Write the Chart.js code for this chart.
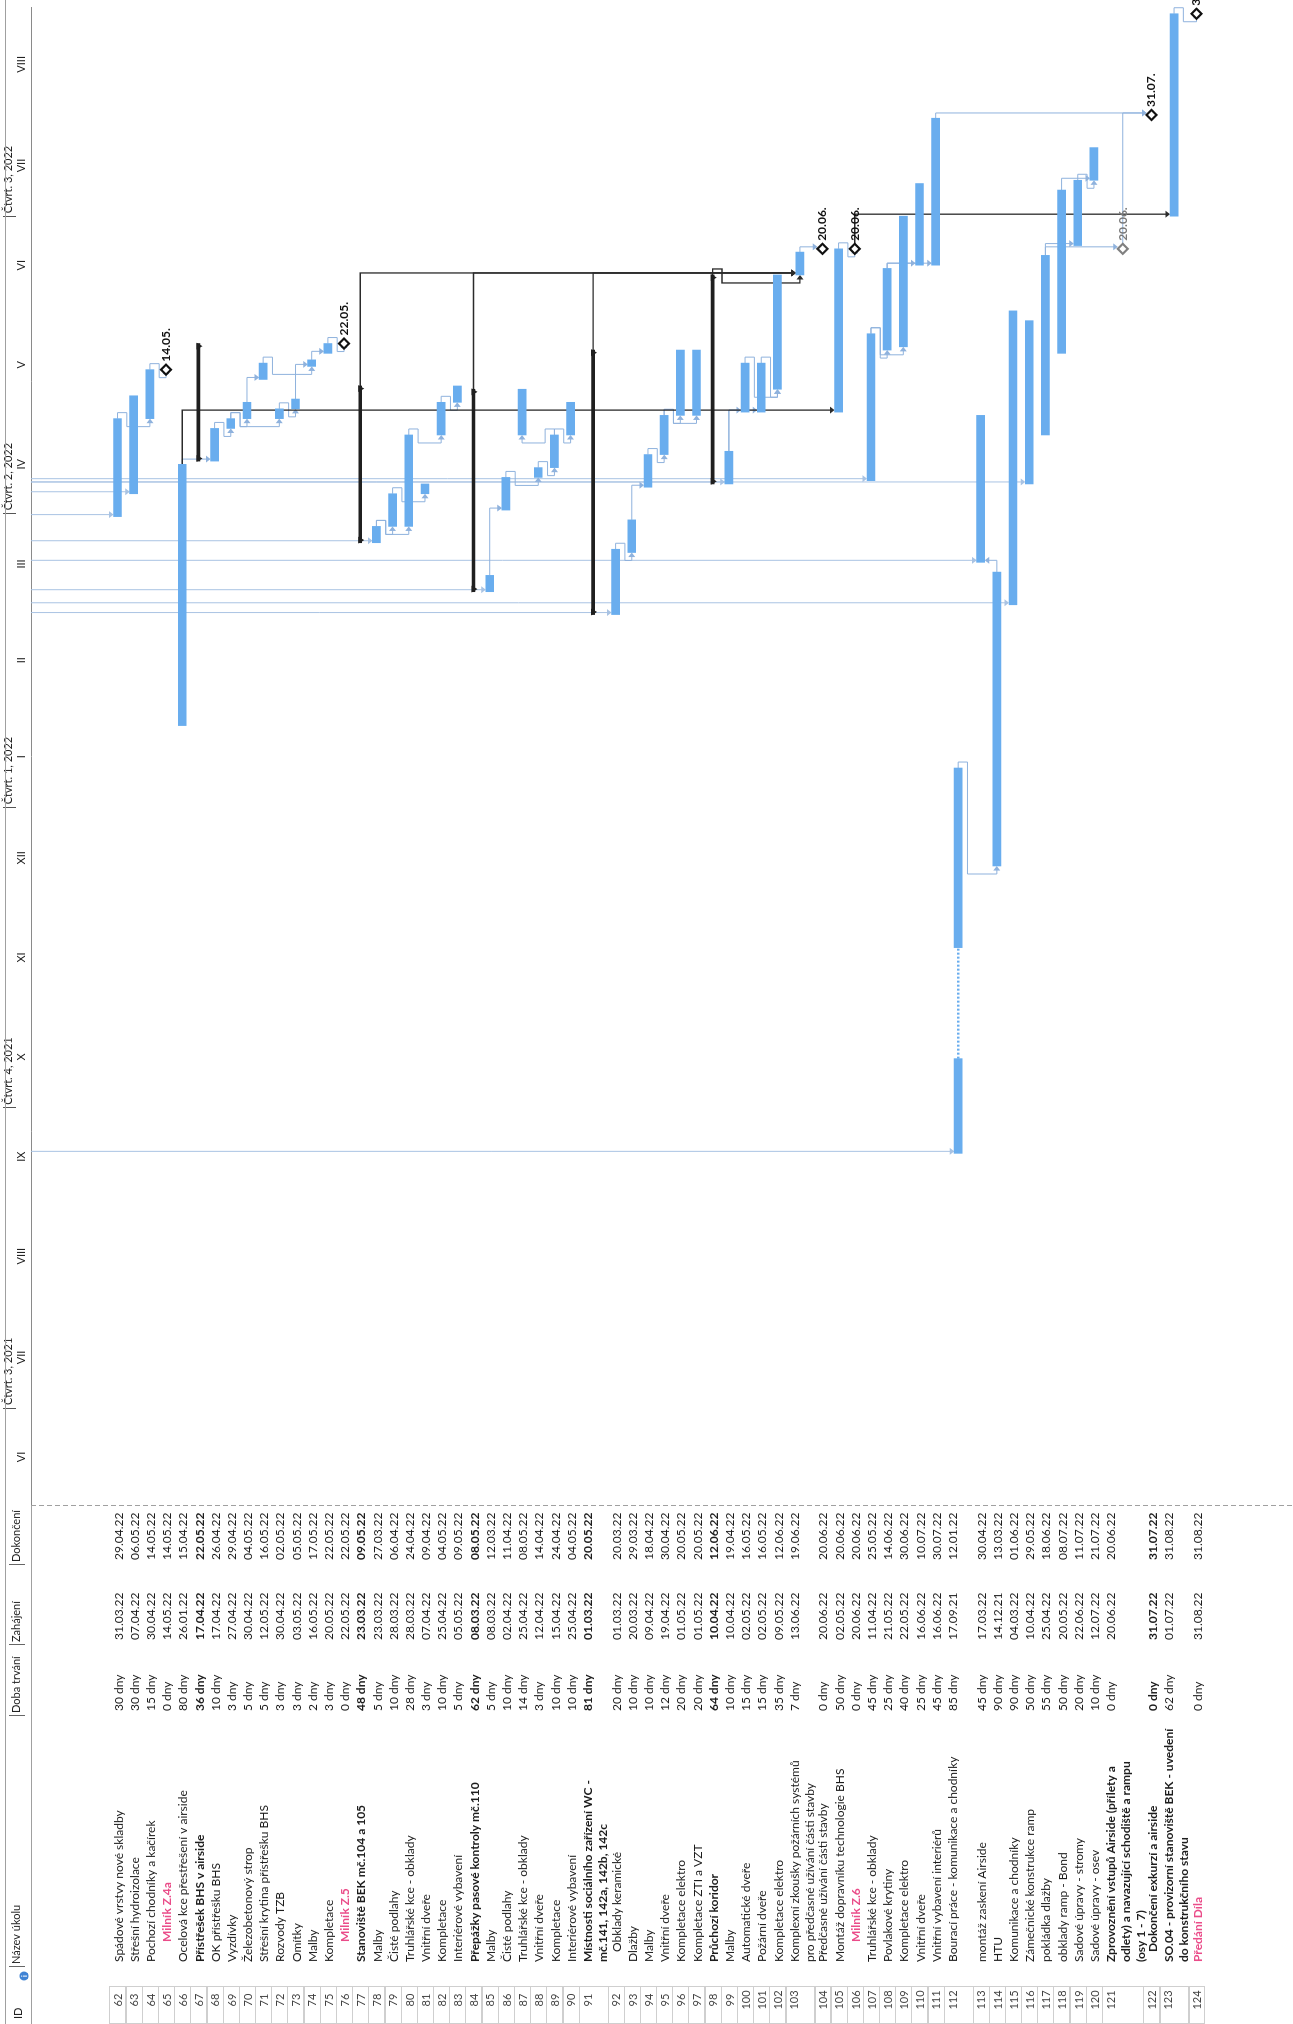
<!DOCTYPE html>
<html>
<head>
<meta charset="utf-8">
<script src="https://cdn.jsdelivr.net/npm/chart.js@4.4.1/dist/chart.umd.min.js"></script>
<style>
  html, body { margin: 0; padding: 0; background: #fff; }
  #page { position: relative; width: 1293px; height: 2024px; overflow: hidden; }
  /* the gantt is drawn landscape and turned a quarter to the left, like the scanned printout */
  #wrap { position: absolute; left: 0; top: 0; width: 2024px; height: 1293px;
          transform-origin: 0 0; transform: translate(0, 2024px) rotate(-90deg); }
</style>
</head>
<body>
<div id="page"><div id="wrap"><canvas id="gantt" width="2024" height="1293"></canvas></div></div>
<script>
// ---- data ----
const taskIds = [62,63,64,65,66,67,68,69,70,71,72,73,74,75,76,77,78,79,80,81,82,83,84,85,86,87,88,89,90,91,92,93,94,95,96,97,98,99,100,101,102,103,104,105,106,107,108,109,110,111,112,113,114,115,116,117,118,119,120,121,122,123,124];

const taskNames = [
  'Spádové vrstvy nové skladby', 'Střešní hydroizolace', 'Pochozí chodníky a kačírek', 'Milník Z.4a',
  'Ocelová kce přestřešení v airside', 'Přístřešek BHS v airside', 'OK přístřešku BHS', 'Vyzdívky',
  'Železobetonový strop', 'Střešní krytina přístřešku BHS', 'Rozvody TZB', 'Omítky', 'Malby', 'Kompletace',
  'Milník Z.5', 'Stanoviště BEK mč.104 a 105', 'Malby', 'Čisté podlahy', 'Truhlářské kce - obklady',
  'Vnitřní dveře', 'Kompletace', 'Interiérové vybavení', 'Přepážky pasové kontroly mč.110', 'Malby',
  'Čisté podlahy', 'Truhlářské kce - obklady', 'Vnitřní dveře', 'Kompletace', 'Interiérové vybavení',
  'Místnosti sociálního zařízení WC -\nmč.141, 142a, 142b, 142c', 'Obklady keramické', 'Dlažby', 'Malby',
  'Vnitřní dveře', 'Kompletace elektro', 'Kompletace ZTI a VZT', 'Průchozí koridor', 'Malby',
  'Automatické dveře', 'Požární dveře', 'Kompletace elektro',
  'Komplexní zkoušky požárních systémů\npro předčasné užívání části stavby', 'Předčasné užívání části stavby',
  'Montáž dopravníku technologie BHS', 'Milník Z.6', 'Truhlářské kce - obklady', 'Povlakové krytiny',
  'Kompletace elektro', 'Vnitřní dveře', 'Vnitřní vybavení interiérů', 'Bourací práce - komunikace a chodníky',
  'montáž zaskení Airside', 'HTU', 'Komunikace a chodníky', 'Zámečnické konstrukce ramp', 'pokládka dlažby',
  'obklady ramp - Bond', 'Sadové úpravy - stromy', 'Sadové úpravy - osev',
  'Zprovoznění vstupů Airside (přílety a\nodlety) a navazující schodiště a rampu\n(osy 1 - 7)',
  'Dokončení exkurzí a airside', 'SO.04 - provizorní stanoviště BEK - uvedení\ndo konstrukčního stavu', 'Předání Díla'
];

const durations = ['30 dny','30 dny','15 dny','0 dny','80 dny','36 dny','10 dny','3 dny','5 dny','5 dny','3 dny','3 dny','2 dny','3 dny',
  '0 dny','48 dny','5 dny','10 dny','28 dny','3 dny','10 dny','5 dny','62 dny','5 dny','10 dny','14 dny','3 dny','10 dny','10 dny',
  '81 dny','20 dny','10 dny','10 dny','12 dny','20 dny','20 dny','64 dny','10 dny','15 dny','15 dny','35 dny','7 dny','0 dny',
  '50 dny','0 dny','45 dny','25 dny','40 dny','25 dny','45 dny','85 dny','45 dny','90 dny','90 dny','50 dny','55 dny','50 dny',
  '20 dny','10 dny','0 dny','0 dny','62 dny','0 dny'];

const startDates = ['31.03.22','07.04.22','30.04.22','14.05.22','26.01.22','17.04.22','17.04.22','27.04.22','30.04.22','12.05.22',
  '30.04.22','03.05.22','16.05.22','20.05.22','22.05.22','23.03.22','23.03.22','28.03.22','28.03.22','07.04.22','25.04.22',
  '05.05.22','08.03.22','08.03.22','02.04.22','25.04.22','12.04.22','15.04.22','25.04.22','01.03.22','01.03.22','20.03.22',
  '09.04.22','19.04.22','01.05.22','01.05.22','10.04.22','10.04.22','02.05.22','02.05.22','09.05.22','13.06.22','20.06.22',
  '02.05.22','20.06.22','11.04.22','21.05.22','22.05.22','16.06.22','16.06.22','17.09.21','17.03.22','14.12.21','04.03.22',
  '10.04.22','25.04.22','20.05.22','22.06.22','12.07.22','20.06.22','31.07.22','01.07.22','31.08.22'];

const finishDates = ['29.04.22','06.05.22','14.05.22','14.05.22','15.04.22','22.05.22','26.04.22','29.04.22','04.05.22','16.05.22',
  '02.05.22','05.05.22','17.05.22','22.05.22','22.05.22','09.05.22','27.03.22','06.04.22','24.04.22','09.04.22','04.05.22',
  '09.05.22','08.05.22','12.03.22','11.04.22','08.05.22','14.04.22','24.04.22','04.05.22','20.05.22','20.03.22','29.03.22',
  '18.04.22','30.04.22','20.05.22','20.05.22','12.06.22','19.04.22','16.05.22','16.05.22','12.06.22','19.06.22','20.06.22',
  '20.06.22','20.06.22','25.05.22','14.06.22','30.06.22','10.07.22','30.07.22','12.01.22','30.04.22','13.03.22','01.06.22',
  '29.05.22','18.06.22','08.07.22','11.07.22','21.07.22','20.06.22','31.07.22','31.08.22','31.08.22'];

// indentation of the name cell (milestones Z.x sit deeper)
const outlineLevel = [0,0,0,2,0,0,0,0,0,0,0,0,0,0,2,0,0,0,0,0,0,0,0,0,0,0,0,0,0,0,1,0,0,0,0,0,0,0,0,0,0,0,0,0,2,0,0,0,0,0,0,
  0,0,0,0,0,0,0,0,0,1,0,0];

const summaryIds = [67, 77, 84, 91, 98];
const boldNameIds = [65, 67, 76, 77, 84, 91, 98, 106, 121, 122, 123, 124];
const boldValueIds = [67, 77, 84, 91, 98, 122];
const pinkIds = [65, 76, 106, 124];
const greyMilestoneIds = [121];

// task 112 was split in the plan
const split112 = [['17.09.21', '15.10.21'], ['19.11.21', '12.01.22']];

const links = [[62,64],[64,65],[66,68],[68,69],[69,70],[69,72],[72,73],[70,71],[73,74],[71,74],[74,75],[75,76],
  [78,79],[78,80],[79,81],[80,82],[82,83],[85,86],[86,88],[88,89],[89,87],[89,90],
  [92,93],[93,94],[94,95],[95,96],[95,97],[99,100],[99,101],[101,102],[100,102],
  [103,104],[105,106],[107,108],[108,110],[108,111],[107,109],
  [112,114],[114,113],[117,119],[119,120],[118,120],[117,121],[121,122],[111,122],[123,124]];
const summaryLinks = [[77,103],[84,103],[91,103],[98,103],[66,105],[106,123]];
const externalLinks = [62, 63, 78, 85, 92, 99, 107, 112, 113, 115, 116];

const monthStarts = ['01.06.21','01.07.21','01.08.21','01.09.21','01.10.21','01.11.21','01.12.21','01.01.22',
  '01.02.22','01.03.22','01.04.22','01.05.22','01.06.22','01.07.22','01.08.22','01.09.22'];
const monthLabels = ['VI','VII','VIII','IX','X','XI','XII','I','II','III','IV','V','VI','VII','VIII'];
const quarterStarts = ['01.07.21','01.10.21','01.01.22','01.04.22','01.07.22'];
const quarterLabels = ['Čtvrt. 3, 2021','Čtvrt. 4, 2021','Čtvrt. 1, 2022','Čtvrt. 2, 2022','Čtvrt. 3, 2022'];

const tableHeaders = ['ID', 'Název úkolu', 'Doba trvání', 'Zahájení', 'Dokončení'];

// ---- layout ----
const HEADER = 31, ROW_PX = 18.6, TABLE_W = 518, LINE_PX = 15;
const ID_W = 37;
const COL_X = [24, 62, 313, 384, 464];
const INDENT = 10;
const tallRows = {112: 2};
const FONT = 'Lato, "Open Sans", sans-serif';
const BAR_BLUE = '#69adee';
const LINK_BLUE = '#8fb2dd';

function day(s) {
  const [d, m, y] = s.split('.').map(Number);
  return Date.UTC(2000 + y, m - 1, d) / 86400000;
}
const idx = id => taskIds.indexOf(id);
const isMilestone = i => durations[i] === '0 dny';

const lineCount = taskNames.map((n, i) => Math.max(n.split('\n').length, tallRows[taskIds[i]] || 1));
const rowUnits = lineCount.map(n => 1 + (n - 1) * 0.78);
const rowTop = [];
let acc = 0;
rowUnits.forEach(u => { rowTop.push(acc); acc += u; });
const rowCenter = rowTop.map((t, i) => t + rowUnits[i] / 2);

// ---- datasets ----
const taskBars = [];
taskIds.forEach((id, i) => {
  if (isMilestone(i) || summaryIds.includes(id) || id === 112) return;
  taskBars.push({x: [day(startDates[i]), day(finishDates[i]) + 1], y: rowCenter[i]});
});
split112.forEach(([s, f]) => taskBars.push({x: [day(s), day(f) + 1], y: rowCenter[idx(112)]}));
const splitGap = [
  {x: day(split112[0][1]) + 1, y: rowCenter[idx(112)]},
  {x: day(split112[1][0]), y: rowCenter[idx(112)]}
];

const summaryBars = summaryIds.map(id => {
  const i = idx(id);
  return {x: [day(startDates[i]), day(finishDates[i]) + 1], y: rowCenter[i]};
});
const summaryCaps = [];
summaryIds.forEach(id => {
  const i = idx(id);
  summaryCaps.push({x: day(startDates[i]) + 0.8, y: rowCenter[i]});
  summaryCaps.push({x: day(finishDates[i]) + 0.2, y: rowCenter[i]});
});

const milestoneIdList = taskIds.filter((id, i) => isMilestone(i));
const milestones = milestoneIdList.map(id => ({x: day(finishDates[idx(id)]) + 1, y: rowCenter[idx(id)], id: id}));

// ---- plugins ----
function arrow(ctx, x, y, dir) {
  const s = 3.5;
  ctx.beginPath();
  if (dir === 'down') { ctx.moveTo(x - s, y - s * 1.3); ctx.lineTo(x + s, y - s * 1.3); ctx.lineTo(x, y); }
  else if (dir === 'up') { ctx.moveTo(x - s, y + s * 1.3); ctx.lineTo(x + s, y + s * 1.3); ctx.lineTo(x, y); }
  else { ctx.moveTo(x - s * 1.3, y - s); ctx.lineTo(x - s * 1.3, y + s); ctx.lineTo(x, y); }
  ctx.closePath();
  ctx.fill();
}

const linkPlugin = {
  id: 'links',
  beforeDatasetsDraw(chart) {
    const ctx = chart.ctx, xs = chart.scales.x, ys = chart.scales.y;
    const endOf = id => { const i = idx(id); return xs.getPixelForValue(day(finishDates[i]) + 1) + (isMilestone(i) ? 5 : 0); };
    const startOf = id => { const i = idx(id); return xs.getPixelForValue(isMilestone(i) ? day(finishDates[i]) + 1 : day(startDates[i])); };
    const rowY = id => ys.getPixelForValue(rowCenter[idx(id)]);
    const draw = (a, b, color, width) => {
      const x1 = endOf(a), y1 = rowY(a), x2 = startOf(b), y2 = rowY(b);
      const dir = y2 > y1 ? 1 : -1;
      const half = isMilestone(idx(b)) ? 5 : 4;
      ctx.strokeStyle = color; ctx.fillStyle = color; ctx.lineWidth = width;
      ctx.beginPath();
      if (x2 >= x1 + 3) {
        ctx.moveTo(x1, y1); ctx.lineTo(x2 + 2, y1); ctx.lineTo(x2 + 2, y2 - dir * (half + 3));
        ctx.stroke();
        arrow(ctx, x2 + 2, y2 - dir * half, dir > 0 ? 'down' : 'up');
      } else {
        const mid = y1 + dir * ROW_PX / 2;
        ctx.moveTo(x1, y1); ctx.lineTo(x1 + 6, y1); ctx.lineTo(x1 + 6, mid);
        ctx.lineTo(x2 - 8, mid); ctx.lineTo(x2 - 8, y2); ctx.lineTo(x2 - 4, y2);
        ctx.stroke();
        arrow(ctx, x2, y2, 'right');
      }
    };
    ctx.save();
    externalLinks.forEach(id => {
      const x = startOf(id) + 2, y = rowY(id);
      ctx.strokeStyle = '#a9c3e3'; ctx.fillStyle = '#a9c3e3'; ctx.lineWidth = 1;
      ctx.beginPath(); ctx.moveTo(x, HEADER); ctx.lineTo(x, y - 7); ctx.stroke();
      arrow(ctx, x, y - 4, 'down');
    });
    links.forEach(([a, b]) => draw(a, b, LINK_BLUE, 1));
    summaryLinks.forEach(([a, b]) => draw(a, b, '#2b2b2b', 1.3));
    ctx.restore();
  },
  afterDatasetsDraw(chart) {
    const ctx = chart.ctx, xs = chart.scales.x, ys = chart.scales.y;
    ctx.save();
    ctx.font = 'bold 12px ' + FONT;
    ctx.textBaseline = 'middle';
    ctx.textAlign = 'left';
    milestones.forEach(m => {
      ctx.fillStyle = greyMilestoneIds.includes(m.id) ? '#7a7a7a' : '#111';
      ctx.fillText(finishDates[idx(m.id)].slice(0, 6), xs.getPixelForValue(m.x) + 8, ys.getPixelForValue(m.y));
    });
    ctx.restore();
  }
};

const tablePlugin = {
  id: 'taskTable',
  afterDraw(chart) {
    const ctx = chart.ctx, ys = chart.scales.y;
    const hline = (x1, y1, x2, y2) => { ctx.beginPath(); ctx.moveTo(x1, y1); ctx.lineTo(x2, y2); ctx.stroke(); };
    ctx.save();
    ctx.strokeStyle = '#a0a0a0'; ctx.lineWidth = 1;
    hline(0, 5.5, chart.width, 5.5);
    hline(0, HEADER + 0.5, TABLE_W, HEADER + 0.5);
    ctx.setLineDash([5, 3]);
    hline(TABLE_W + 0.5, HEADER, TABLE_W + 0.5, chart.height);
    ctx.setLineDash([]);

    // header row
    ctx.font = '11px ' + FONT; ctx.fillStyle = '#222'; ctx.textBaseline = 'middle'; ctx.textAlign = 'left';
    ctx.fillText(tableHeaders[0], 5, 18);
    [1, 2, 3, 4].forEach(c => {
      const x = COL_X[c] - 5;
      ctx.strokeStyle = '#666'; hline(x + 0.5, 9, x + 0.5, 25);
      ctx.fillText(tableHeaders[c], x + 3, 16);
    });
    // info indicator in the header
    ctx.fillStyle = '#3f83d4';
    ctx.beginPath(); ctx.arc(48, 24, 4.5, 0, Math.PI * 2); ctx.fill();
    ctx.fillStyle = '#fff'; ctx.font = 'bold 7px ' + FONT; ctx.textAlign = 'center';
    ctx.fillText('i', 48, 24.5);

    taskIds.forEach((id, i) => {
      const top = ys.getPixelForValue(rowTop[i]);
      const bottom = ys.getPixelForValue(rowTop[i] + rowUnits[i]);
      const y0 = top + ROW_PX / 2;
      ctx.strokeStyle = '#cfcfcf';
      ctx.strokeRect(0.5, Math.round(top) + 0.5, ID_W, Math.round(bottom - top));
      ctx.font = '11px ' + FONT; ctx.fillStyle = '#444'; ctx.textAlign = 'center';
      ctx.fillText(String(id), COL_X[0], y0);

      ctx.textAlign = 'left';
      ctx.font = (boldNameIds.includes(id) ? 'bold ' : '') + '12px ' + FONT;
      ctx.fillStyle = pinkIds.includes(id) ? '#ea4c89' : '#1d1d1d';
      taskNames[i].split('\n').forEach((ln, k) => ctx.fillText(ln, COL_X[1] + outlineLevel[i] * INDENT, y0 + k * LINE_PX));

      ctx.font = (boldValueIds.includes(id) ? 'bold ' : '') + '12px ' + FONT;
      ctx.fillStyle = '#1d1d1d';
      ctx.fillText(durations[i], COL_X[2], y0);
      ctx.fillText(startDates[i], COL_X[3], y0);
      ctx.fillText(finishDates[i], COL_X[4], y0);
    });
    ctx.restore();
  }
};

// ---- chart ----
const xMin = day(monthStarts[0]);
const xMax = day('03.09.22');
const monthMid = monthLabels.map((m, i) => (day(monthStarts[i]) + day(monthStarts[i + 1])) / 2);
const quarterTicks = quarterStarts.map(day);

new Chart(document.getElementById('gantt'), {
  type: 'bar',
  data: {
    datasets: [
      {
        label: 'Úkoly', data: taskBars, backgroundColor: BAR_BLUE, barThickness: 8,
        grouped: false, borderSkipped: false, order: 3
      },
      {
        label: 'Přerušení', type: 'line', data: splitGap, borderColor: BAR_BLUE, borderWidth: 2.5,
        borderDash: [2, 2], pointRadius: 0, fill: false, order: 4
      },
      {
        label: 'Souhrnné úkoly', data: summaryBars, backgroundColor: '#1f1f1f', barThickness: 3,
        grouped: false, order: 2
      },
      {
        label: 'Souhrn - konce', type: 'scatter', data: summaryCaps, pointStyle: 'triangle', rotation: 180,
        pointRadius: 4, backgroundColor: '#1f1f1f', borderColor: '#1f1f1f', borderWidth: 0, order: 1
      },
      {
        label: 'Milníky', type: 'scatter', data: milestones, pointStyle: 'rectRot', pointRadius: 5,
        backgroundColor: '#fff',
        borderColor: milestones.map(m => greyMilestoneIds.includes(m.id) ? '#808080' : '#111'),
        borderWidth: 2.2, order: 0
      }
    ]
  },
  options: {
    indexAxis: 'y',
    responsive: false,
    animation: false,
    devicePixelRatio: 1,
    events: [],
    layout: { padding: { left: TABLE_W, top: 0, right: 0, bottom: 0 } },
    plugins: { legend: { display: false }, tooltip: { enabled: false } },
    scales: {
      x: {
        type: 'linear', position: 'top', weight: 1, min: xMin, max: xMax,
        grid: { display: false, drawTicks: false },
        border: { display: true, color: '#8a8a8a' },
        ticks: {
          autoSkip: false, maxRotation: 0, padding: 3, color: '#222', font: { family: FONT, size: 11 },
          callback: (v, i) => monthLabels[i]
        },
        afterBuildTicks: s => { s.ticks = monthMid.map(v => ({value: v})); },
        afterFit: s => { s.height = 15; }
      },
      xq: {
        type: 'linear', position: 'top', weight: 2, min: xMin, max: xMax,
        grid: { display: true, drawOnChartArea: false, drawTicks: true, tickLength: 13, color: '#555' },
        border: { display: false },
        ticks: {
          autoSkip: false, maxRotation: 0, align: 'start', labelOffset: 3, padding: -12,
          color: '#222', font: { family: FONT, size: 11 },
          callback: (v, i) => quarterLabels[i]
        },
        afterBuildTicks: s => { s.ticks = quarterTicks.map(v => ({value: v})); },
        afterFit: s => { s.height = 16; }
      },
      y: {
        type: 'linear', reverse: true, display: false,
        min: 0, max: (1293 - HEADER) / ROW_PX
      }
    }
  },
  plugins: [linkPlugin, tablePlugin]
});
</script>
</body>
</html>
